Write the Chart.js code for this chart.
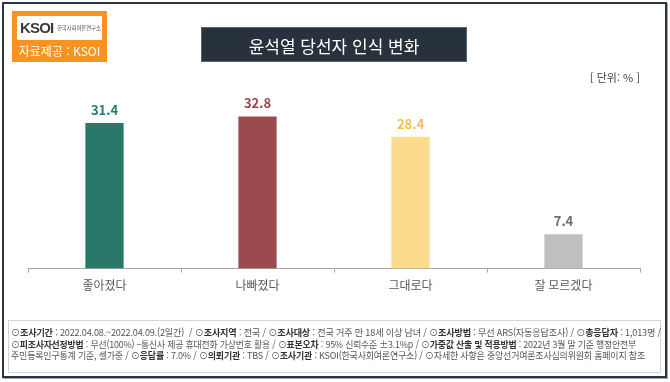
<!DOCTYPE html>
<html lang="ko">
<head>
<meta charset="utf-8">
<script src="https://cdn.jsdelivr.net/npm/chart.js@4/dist/chart.umd.min.js"></script>
<style>
  html, body { margin:0; padding:0; background:#fff; }
  body { width:670px; height:382px; position:relative; overflow:hidden; font-family:"Noto Sans CJK KR","Noto Sans",sans-serif; }
  #chart { position:absolute; left:0; top:0; }
  .frame { position:absolute; left:2px; top:2px; width:661px; height:372px; border:2px solid #2c3641; box-shadow: 1px 1px 0 #9aa3ab; }
  .logo { position:absolute; left:12px; top:11px; width:95px; height:51px; background:#f7931e; }
  .logo .inner { position:absolute; left:5px; top:5px; width:85px; height:24px; background:#fff; }
  .logo .ksoi { position:absolute; left:3px; top:2px; font-family:"Liberation Sans",Arial,sans-serif; font-weight:bold; font-size:15px; color:#3b3b3b; letter-spacing:-0.8px; line-height:20px; }
  .logo .ksoi .dot { color:#f7931e; }
  .logo .small { position:absolute; left:40px; top:8px; font-size:5.5px; color:#555; line-height:8px; white-space:nowrap; letter-spacing:-0.2px; }
  .logo .src { position:absolute; left:0; top:31px; width:95px; text-align:center; color:#fff; font-size:12px; line-height:18px; white-space:nowrap; }
  .title { position:absolute; left:201px; top:27px; width:266px; height:35px; background:#28323d; color:#fff; font-size:17px; line-height:35px; text-align:center; border:1px solid #5a6470; box-sizing:border-box; }
  .unit { position:absolute; right:30px; top:68px; font-size:11px; color:#444; line-height:18px; white-space:nowrap; }
  .footbox { position:absolute; left:8px; top:320px; width:653px; height:53px; border:1px solid #d4d4d4; box-sizing:border-box; }
  .fl { position:absolute; left:11px; font-size:9.5px; color:#555; white-space:nowrap; line-height:12px; transform-origin:0 50%; letter-spacing:-0.2px; }
  .fl b { color:#333; }
</style>
</head>
<body>
<canvas id="chart" width="670" height="382"></canvas>
<div class="frame"></div>
<div class="logo">
  <div class="inner">
    <div class="ksoi">KSO<span>I</span></div>
    <div class="small">한국사회여론연구소</div>
  </div>
  <div class="src">자료제공 : KSOI</div>
</div>
<div class="title">윤석열 당선자 인식 변화</div>
<div class="unit">[ 단위: % ]</div>
<div class="footbox"></div>
<div class="fl" id="f1" data-w="650" style="top:326px;">⊙<b>조사기간</b> : 2022.04.08.~2022.04.09.(2일간)&nbsp; / ⊙<b>조사지역</b> : 전국 / ⊙<b>조사대상</b> : 전국 거주 만 18세 이상 남녀 / ⊙<b>조사방법</b> : 무선 ARS(자동응답조사) / ⊙<b>총응답자</b> : 1,013명 /</div>
<div class="fl" id="f2" data-w="625" style="top:338px;">⊙<b>피조사자선정방법</b> : 무선(100%) –통신사 제공 휴대전화 가상번호 활용 / ⊙<b>표본오차</b> : 95% 신뢰수준 ±3.1%p / ⊙<b>가중값 산출 및 적용방법</b> : 2022년 3월 말 기준 행정안전부</div>
<div class="fl" id="f3" data-w="634" style="top:349px;">주민등록인구통계 기준, 셀가중 / ⊙<b>응답률</b> : 7.0% / ⊙<b>의뢰기관</b> : TBS / ⊙<b>조사기관</b> : KSOI(한국사회여론연구소) / ⊙자세한 사항은 중앙선거여론조사심의위원회 홈페이지 참조</div>
<script>
const categories = ["좋아졌다", "나빠졌다", "그대로다", "잘 모르겠다"];
const values = [31.4, 32.8, 28.4, 7.4];
const barColors = ["#2a786a", "#9b4a4f", "#fddb8e", "#bfbfbf"];
const labelColors = ["#2a7a6b", "#9a464c", "#f5bf44", "#6e6e6e"];

document.querySelectorAll('.fl').forEach(el => {
  const w = el.getBoundingClientRect().width;
  const target = parseFloat(el.dataset.w);
  el.style.transform = 'scaleX(' + (target / w) + ')';
});

const valueLabels = {
  id: 'valueLabels',
  afterDatasetsDraw(chart) {
    const ctx = chart.ctx;
    const meta = chart.getDatasetMeta(0);
    ctx.save();
    ctx.font = 'bold 13px "Noto Sans CJK KR", "Noto Sans", sans-serif';
    ctx.textAlign = 'center';
    ctx.textBaseline = 'middle';
    meta.data.forEach((bar, i) => {
      ctx.fillStyle = labelColors[i];
      ctx.fillText(values[i].toFixed(1), bar.x, bar.y - 13);
    });
    ctx.restore();
  }
};

new Chart(document.getElementById('chart'), {
  type: 'bar',
  data: {
    labels: categories,
    datasets: [{
      data: values,
      backgroundColor: barColors,
      borderWidth: 0,
      categoryPercentage: 1.0,
      barPercentage: 0.25
    }]
  },
  options: {
    responsive: false,
    animation: false,
    devicePixelRatio: 1,
    layout: { padding: { left: 28, right: 30, top: 83, bottom: 83 } },
    plugins: { legend: { display: false }, tooltip: { enabled: false } },
    scales: {
      x: {
        grid: { offset: true, drawOnChartArea: false, tickLength: 4, color: '#a6a6a6' },
        border: { color: '#a6a6a6', width: 1 },
        ticks: { color: '#595959', padding: 6, font: { family: '"Noto Sans CJK KR", "Noto Sans", sans-serif', size: 12 } }
      },
      y: { display: false, min: 0, max: 40 }
    }
  },
  plugins: [valueLabels]
});
</script>
</body>
</html>
